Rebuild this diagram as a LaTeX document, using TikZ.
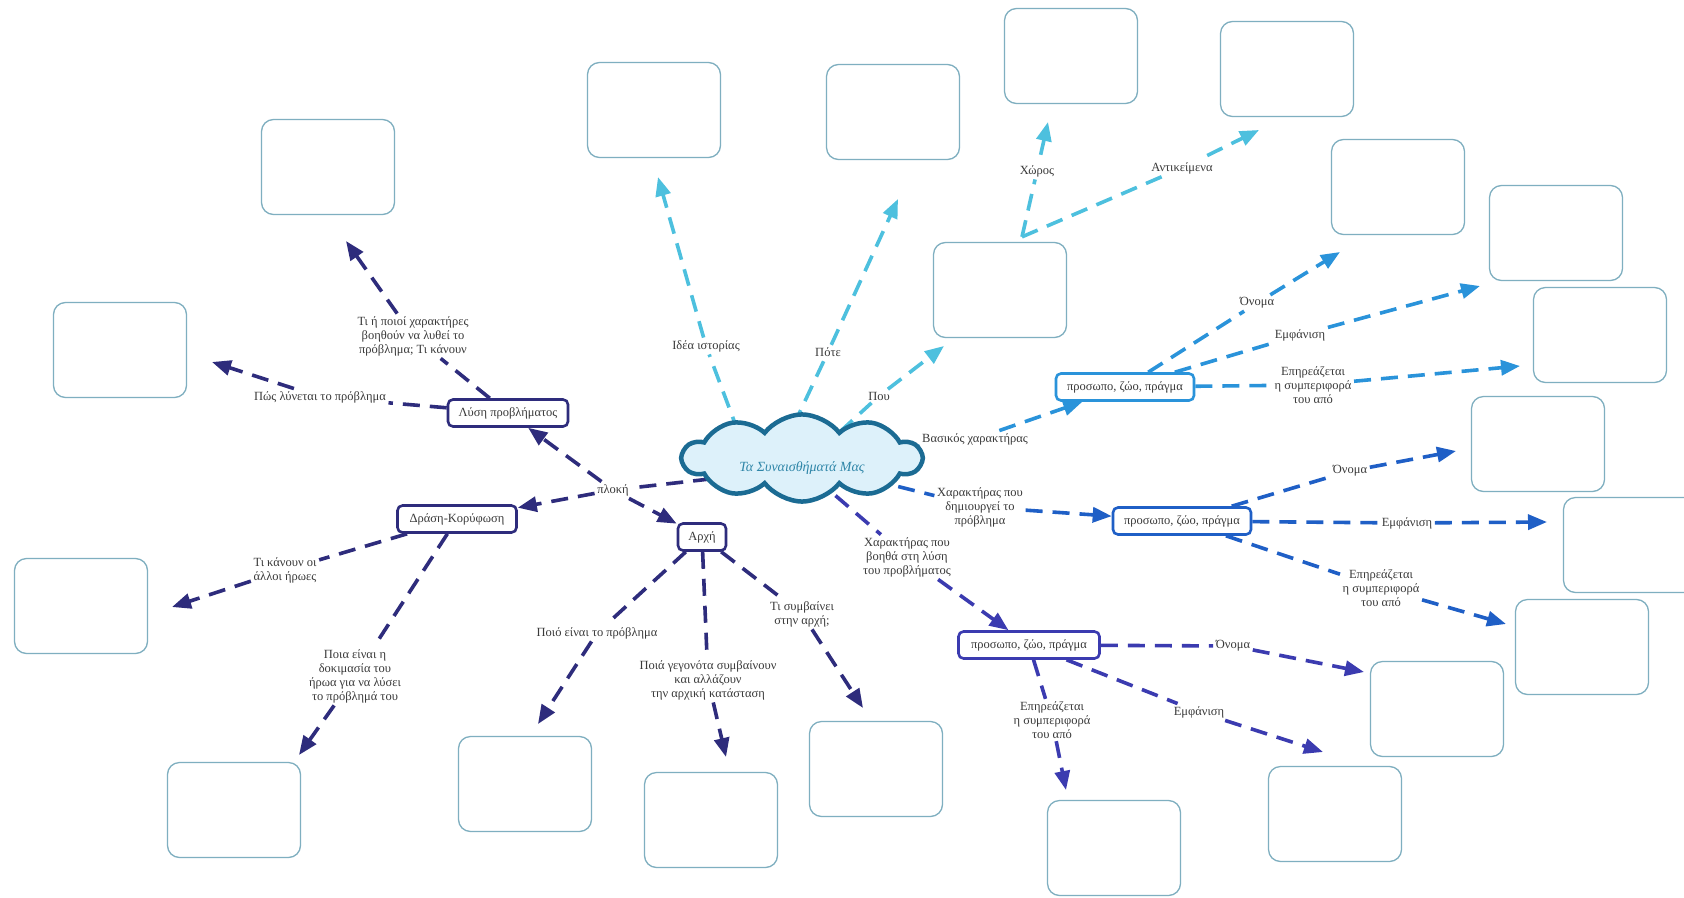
\documentclass[tikz,border=0pt]{standalone}
\usepackage{fontspec}
\setmainfont{Liberation Serif}
\usetikzlibrary{arrows.meta,shapes.symbols,calc}
\pgfdeclarelayer{bg}
\pgfdeclarelayer{paper}
\pgfsetlayers{paper,bg,main}
\definecolor{cyanL}{HTML}{4DC0DE}
\definecolor{blueA}{HTML}{2A93DA}
\definecolor{blueB}{HTML}{1F5FC6}
\definecolor{indig}{HTML}{3B3BB0}
\definecolor{navy}{HTML}{2E2C7C}
\definecolor{eboxc}{HTML}{7FAFC0}
\definecolor{cloudfill}{HTML}{DDF1FA}
\definecolor{cloudedge}{HTML}{1B6B93}
\definecolor{cloudtext}{HTML}{2F86A8}
\definecolor{txt}{HTML}{3A3A3A}
\tikzset{
  ebox/.style={draw=eboxc, line width=1.3pt, rounded corners=12pt, minimum width=133pt, minimum height=95pt, fill=white},
  kbox/.style={draw=#1, line width=2.6pt, rounded corners=5pt, fill=white, minimum height=27pt, inner sep=2pt, font=\fontsize{12.5}{14}\selectfont, text=txt},
  lbl/.style={font=\fontsize{12.5}{14}\selectfont, text=txt, align=center, inner sep=2.5pt},
  link/.style={draw=#1, line width=3.6pt, dash pattern=on 17pt off 10pt},
  arr/.style={link=#1, -{Triangle[length=19pt,width=15pt]}}
}
\begin{document}
\begin{tikzpicture}[x=1pt,y=-1pt]
\begin{pgfonlayer}{paper}
\fill[white] (0,0) rectangle (1684,897);
\end{pgfonlayer}
\useasboundingbox (0,0) rectangle (1684,897);
% empty boxes
\node[ebox] (b1) at (328,167) {};
\node[ebox] (b2) at (120,350) {};
\node[ebox] (b3) at (81,606) {};
\node[ebox] (b4) at (234,810) {};
\node[ebox] (b5) at (525,784) {};
\node[ebox] (b6) at (711,820) {};
\node[ebox] (b7) at (876,769) {};
\node[ebox] (b8) at (654,110) {};
\node[ebox] (b9) at (893,112) {};
\node[ebox] (b10) at (1071,56) {};
\node[ebox] (b11) at (1287,69) {};
\node[ebox] (b12) at (1000,290) {};
\node[ebox] (b13) at (1398,187) {};
\node[ebox] (b14) at (1556,233) {};
\node[ebox] (b15) at (1600,335) {};
\node[ebox] (b16) at (1538,444) {};
\node[ebox] (b17) at (1630,545) {};
\node[ebox] (b18) at (1582,647) {};
\node[ebox] (b19) at (1437,709) {};
\node[ebox] (b20) at (1335,814) {};
\node[ebox] (b21) at (1114,848) {};
% central cloud
\node[cloud, cloud puffs=10, cloud puff arc=105, aspect=2.8, draw=cloudedge, line width=4.5pt, fill=cloudfill,
      minimum width=238pt, minimum height=84pt, text=cloudtext, inner sep=0pt,
      font=\itshape\fontsize{14}{16}\selectfont] (cloud) at (802,458) {\rule{0pt}{30pt}Τα Συναισθήματά Μας};
% main nodes
\node[kbox=navy, minimum width=120pt] (lysi) at (508,413) {Λύση προβλήματος};
\node[kbox=navy, minimum width=119pt] (drasi) at (457,519) {Δράση-Κορύφωση};
\node[kbox=navy, minimum width=48pt] (arxi) at (702,537) {Αρχή};
\node[kbox=blueA, minimum width=138pt] (p1) at (1125,387) {προσωπο, ζώο, πράγμα};
\node[kbox=blueB, minimum width=138pt] (p2) at (1182,521) {προσωπο, ζώο, πράγμα};
\node[kbox=indig, minimum width=141pt] (p3) at (1029,645) {προσωπο, ζώο, πράγμα};
% labels
\node[lbl] (Lidea) at (706,346) {Ιδέα ιστορίας};
\node[lbl] (Lpote) at (828,352) {Πότε};
\node[lbl] (Lpou) at (879,396) {Που};
\node[lbl] (Lxoros) at (1037,171) {Χώρος};
\node[lbl] (Lantik) at (1182,168) {Αντικείμενα};
\node[lbl] (Lvas) at (975,439) {Βασικός χαρακτήρας};
\node[lbl] (Lxd) at (980,507) {Χαρακτήρας που\\δημιουργεί το\\πρόβλημα};
\node[lbl] (Lxv) at (907,557) {Χαρακτήρας που\\βοηθά στη λύση\\του προβλήματος};
\node[lbl] (L1on) at (1257,303) {Όνομα};
\node[lbl] (L1em) at (1300,335) {Εμφάνιση};
\node[lbl] (L1ep) at (1313,385) {Επηρεάζεται\\η συμπεριφορά\\του από};
\node[lbl] (L2on) at (1350,471) {Όνομα};
\node[lbl] (L2em) at (1407,523) {Εμφάνιση};
\node[lbl] (L2ep) at (1381,588) {Επηρεάζεται\\η συμπεριφορά\\του από};
\node[lbl] (L3on) at (1233,646) {Όνομα};
\node[lbl] (L3em) at (1199,712) {Εμφάνιση};
\node[lbl] (L3ep) at (1052,720) {Επηρεάζεται\\η συμπεριφορά\\του από};
\node[lbl] (Lplokh) at (613,490) {πλοκή};
\node[lbl] (Ltipoioi) at (413,336) {Τι ή ποιοί χαρακτήρες\\βοηθούν να λυθεί το\\πρόβλημα; Τι κάνουν};
\node[lbl] (Lpos) at (320,397) {Πώς λύνεται το πρόβλημα};
\node[lbl] (Ltikanoun) at (285,570) {Τι κάνουν οι\\άλλοι ήρωες};
\node[lbl] (Lpoiadok) at (355,676) {Ποια είναι η\\δοκιμασία του\\ήρωα για να λύσει\\το πρόβλημά του};
\node[lbl] (Lpoioprob) at (597,633) {Ποιό είναι το πρόβλημα};
\node[lbl] (Lpoiageg) at (708,680) {Ποιά γεγονότα συμβαίνουν\\και αλλάζουν\\την αρχική κατάσταση};
\node[lbl] (Ltisymv) at (802,614) {Τι συμβαίνει\\στην αρχή;};
% arrow tips
\coordinate (Tidea) at (658,177);
\coordinate (Tpote) at (898,199);
\coordinate (Tpou) at (944,346);
\coordinate (Txoros) at (1048,122);
\coordinate (Tantik) at (1259,130);
\coordinate (T1on) at (1340,252);
\coordinate (T1em) at (1480,286);
\coordinate (T1ep) at (1520,366);
\coordinate (T2on) at (1456,451);
\coordinate (T2em) at (1547,522);
\coordinate (T2ep) at (1506,624);
\coordinate (T3on) at (1364,672);
\coordinate (T3em) at (1323,752);
\coordinate (T3ep) at (1066,790);
\coordinate (Ttipoioi) at (346,241);
\coordinate (Tpos) at (212,362);
\coordinate (Ttikanoun) at (172,607);
\coordinate (Tpoiadok) at (299,755);
\coordinate (Tpoioprob) at (538,724);
\coordinate (Tpoiageg) at (726,757);
\coordinate (Ttisymv) at (863,708);
\coordinate (hub) at ($(b12.north)+(22,-5)$);
\begin{pgfonlayer}{bg}
\draw[arr=cyanL] ($(cloud)+(-54,0)$) -- (Lidea) -- (Tidea);
\draw[arr=cyanL] ($(cloud)+(-20,-8)$) -- (Lpote) -- (Tpote);
\draw[arr=cyanL] ($(cloud)+(18,-8)$) -- (Lpou) -- (Tpou);
\draw[arr=cyanL, shorten <=8pt] (hub) -- (Lxoros) -- (Txoros);
\draw[arr=cyanL, shorten <=9pt] (hub) -- (Lantik) -- (Tantik);
\draw[arr=blueA] ($(cloud)+(48,-3)$) -- (Lvas) -- (p1);
\draw[arr=blueA] (p1) -- (L1on) -- (T1on);
\draw[arr=blueA] (p1) -- (L1em) -- (T1em);
\draw[arr=blueA] (p1) -- (L1ep) -- (T1ep);
\draw[arr=blueB] ($(cloud)+(70,22)$) -- (Lxd) -- (p2);
\draw[arr=blueB] (p2) -- (L2on) -- (T2on);
\draw[arr=blueB] (p2) -- (L2em) -- (T2em);
\draw[arr=blueB] (p2) -- (L2ep) -- (T2ep);
\draw[arr=indig] ($(cloud)+(13,20)$) -- (Lxv) -- (p3);
\draw[arr=indig] (p3) -- (L3on) -- (T3on);
\draw[arr=indig] (p3) -- (L3em) -- (T3em);
\draw[arr=indig] (p3) -- (L3ep) -- (T3ep);
\draw[link=navy] ($(cloud)+(-92,21)$) -- (Lplokh);
\draw[arr=navy] (Lplokh) -- (lysi);
\draw[arr=navy] (Lplokh) -- (drasi);
\draw[arr=navy] (Lplokh) -- (arxi);
\draw[arr=navy] (lysi) -- (Ltipoioi) -- (Ttipoioi);
\draw[arr=navy] (lysi) -- (Lpos) -- (Tpos);
\draw[arr=navy] (drasi) -- (Ltikanoun) -- (Ttikanoun);
\draw[arr=navy] (drasi) -- (Lpoiadok) -- (Tpoiadok);
\draw[arr=navy] (arxi) -- (Lpoioprob) -- (Tpoioprob);
\draw[arr=navy] (arxi) -- (Lpoiageg) -- (Tpoiageg);
\draw[arr=navy] (arxi) -- (Ltisymv) -- (Ttisymv);
\end{pgfonlayer}
\end{tikzpicture}
\end{document}
